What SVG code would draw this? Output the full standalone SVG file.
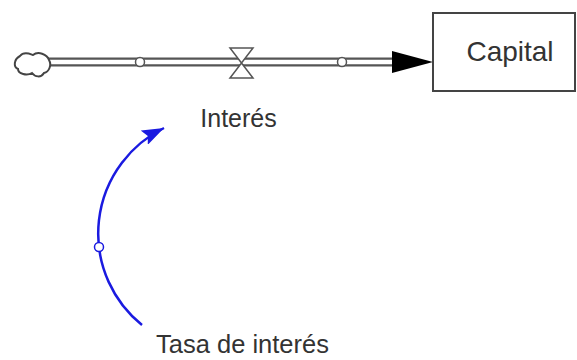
<svg xmlns="http://www.w3.org/2000/svg" width="577" height="360" viewBox="0 0 577 360">
<style>
.t{font-family:"Liberation Sans",Arial,sans-serif;fill:#333}
.pipeo{stroke:#555;stroke-width:9;fill:none}
.pipei{stroke:#fff;stroke-width:4.5;fill:none}
.sm{fill:#fff;stroke:#555;stroke-width:1.5}
</style>
<defs>
<marker id="ah" markerWidth="24" markerHeight="16" refX="22" refY="8" orient="auto" markerUnits="userSpaceOnUse">
<path d="M0,0 L22,8 L0,16 L4,8 Z" fill="#1a1ae0"/>
</marker>
</defs>
<g id="connectors">
<path class="pipeo" d="M48,62 H398"/>
<path class="pipei" d="M48,62 H398"/>
<path d="M392,51 L433,62 L392,73 Z" fill="#000"/>
<circle class="sm" cx="140" cy="62" r="4.5"/>
<circle class="sm" cx="342" cy="62" r="4.5"/>
<path d="M142,325 A117.5,117.5 0 0 1 164,128" fill="none" stroke="#1a1ae0" stroke-width="2.5" marker-end="url(#ah)"/>
<circle cx="99" cy="247" r="4.5" fill="#fff" stroke="#1a1ae0" stroke-width="1.5"/>
</g>
<g id="source">
<path d="M20,56 C24,51 30,54 33,55 C38,51 47,54 49,60 C52,65 49,72 44,73 C41,78 35,77 32,73 C27,76 18,74 18,69 C13,67 14,59 20,56 Z" fill="#fff" stroke="#444" stroke-width="2"/>
</g>
<g id="valve">
<path d="M230,48 H253 L241.5,63 Z M230,78 H253 L241.5,63 Z" fill="#fff" stroke="#555" stroke-width="1.5"/>
</g>
<g id="interes">
<text class="t" x="238.5" y="127" font-size="25" text-anchor="middle">Interés</text>
</g>
<g id="capital">
<rect x="433" y="13" width="142" height="78" fill="#fff" stroke="#444" stroke-width="2"/>
<text class="t" x="510" y="61" font-size="28" text-anchor="middle">Capital</text>
</g>
<g id="tasa">
<text class="t" x="242.5" y="353" font-size="25.5" text-anchor="middle">Tasa de interés</text>
</g>
</svg>
